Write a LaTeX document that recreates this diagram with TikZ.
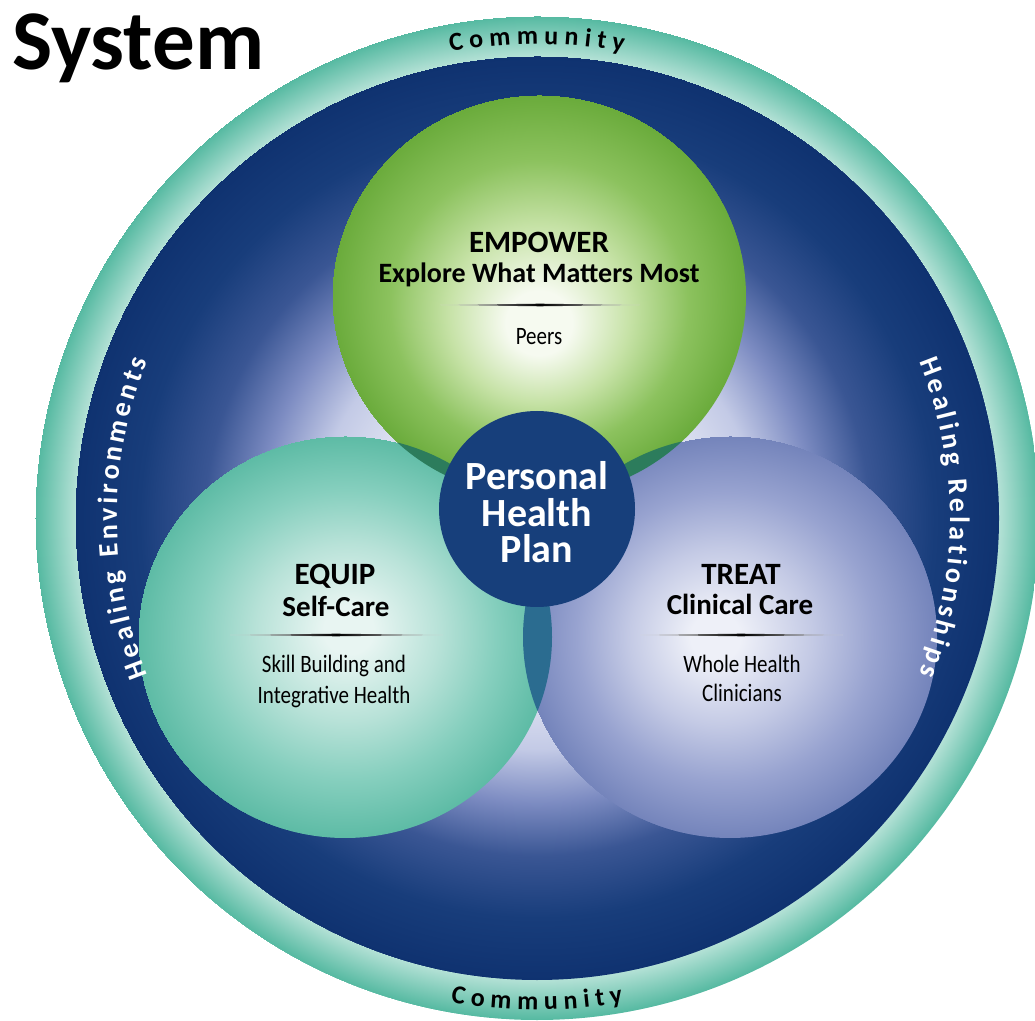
\documentclass[tikz,border=0pt]{standalone}
\usepackage{fontspec}
\setmainfont{Carlito}
\newfontfamily\condfont[FakeStretch=0.84]{Carlito}

% palette
\definecolor{ringdark}{HTML}{55B9A1}
\definecolor{ringlight}{HTML}{BFE6DC}
\definecolor{glowA}{HTML}{E6E9F5}
\definecolor{glowB}{HTML}{C3CAE6}
\definecolor{glowC}{HTML}{7D8CC2}
\definecolor{glowD}{HTML}{3A5694}
\definecolor{glowE}{HTML}{183D7B}
\definecolor{navy}{HTML}{0F3270}
\definecolor{grA}{HTML}{F6FAF0}
\definecolor{grB}{HTML}{C6E2A6}
\definecolor{grC}{HTML}{8CC25E}
\definecolor{grD}{HTML}{6AAB3B}
\definecolor{tlA}{HTML}{E8F5F2}
\definecolor{tlB}{HTML}{B8E2D8}
\definecolor{tlC}{HTML}{86CFBE}
\definecolor{tlD}{HTML}{5DBBA5}
\definecolor{lvA}{HTML}{EEF0F8}
\definecolor{lvB}{HTML}{C4CAE5}
\definecolor{lvC}{HTML}{98A3D0}
\definecolor{lvD}{HTML}{7484BB}
\definecolor{ovgreen}{HTML}{2C7C5C}
\definecolor{ovblue}{HTML}{2B6C90}
\definecolor{hubblue}{HTML}{173F7B}

% radial shadings, rim at 50bp; placed at an explicit scale below
\pgfdeclareradialshading{ringshade}{\pgfpoint{0bp}{0bp}}{%
  color(0bp)=(ringlight); color(45.5bp)=(ringlight); color(50bp)=(ringdark)}
\pgfdeclareradialshading{glowshade}{\pgfpoint{0bp}{-2bp}}{%
  color(0bp)=(glowA); color(16bp)=(glowA); color(24bp)=(glowB); color(30bp)=(glowC);
  color(36bp)=(glowD); color(43bp)=(glowE); color(50bp)=(navy)}
\pgfdeclareradialshading{greenshade}{\pgfpoint{0bp}{-8bp}}{%
  color(0bp)=(grA); color(8bp)=(grA); color(22bp)=(grB); color(36bp)=(grC); color(50bp)=(grD)}
\pgfdeclareradialshading{tealshade}{\pgfpoint{1bp}{2bp}}{%
  color(0bp)=(tlA); color(6bp)=(tlA); color(22bp)=(tlB); color(36bp)=(tlC); color(50bp)=(tlD)}
\pgfdeclareradialshading{lavshade}{\pgfpoint{-4bp}{0bp}}{%
  color(0bp)=(lvA); color(6bp)=(lvA); color(22bp)=(lvB); color(36bp)=(lvC); color(50bp)=(lvD)}

\tikzset{
  blob/.style={x radius=207, y radius=201},
  blobfill/.style={inner sep=0, outer sep=0, xscale=4.1245, yscale=4.0050},
  headtext/.style={anchor=base, font=\bfseries\fontsize{31}{31}\selectfont, text=black, inner sep=0},
  subtext/.style={anchor=base, font=\bfseries\fontsize{29}{29}\selectfont, text=black, inner sep=0},
  roletext/.style={anchor=base, font=\condfont\fontsize{25}{25}\selectfont, text=black, inner sep=0},
  hubtext/.style={anchor=base, font=\bfseries\fontsize{40}{40}\selectfont, text=white, inner sep=0},
  divider/.style={left color=black!15, right color=black!15, middle color=black},
  ringletter/.style={anchor=base, inner sep=0, font=\bfseries\fontsize{26}{26}\selectfont, text=black},
  sideletter/.style={anchor=base, inner sep=0, font=\bfseries\fontsize{28}{28}\selectfont, text=white},
}

% letters set one by one along an arc about (O)
% #1 name prefix, #2 radius, #3 centre angle, #4 direction (-1 clockwise, +1 counter-clockwise),
% #5 tracking, #6 letter style, #7 font size, #8 list of letter/advance in em
\newcommand{\arcletters}[8]{%
  \gdef\arctotal{0}%
  \foreach \ltr/\adv in {#8}{\pgfmathsetmacro\arctmp{\arctotal+\adv*#7+#5}\xdef\arctotal{\arctmp}}%
  \pgfmathsetmacro\arctmp{-(\arctotal-#5)/2}\xdef\arcpos{\arctmp}%
  \foreach \ltr/\adv [count=\k] in {#8}{%
    \pgfmathsetmacro\arcmid{\arcpos+\adv*#7/2}%
    \pgfmathsetmacro\arcang{#3+#4*\arcmid/#2*57.29578}%
    \pgfmathsetmacro\arcrot{\arcang+#4*90}%
    \node[#6, rotate=\arcrot] (#1\k) at ([shift={(\arcang:#2)}]O) {\ltr};
    \pgfmathsetmacro\arctmp{\arcpos+\adv*#7+#5}\xdef\arcpos{\arctmp}%
  }%
}

\begin{document}
\begin{tikzpicture}[x=1pt, y=1pt]
\useasboundingbox (0,0) rectangle (1035,1020);
\coordinate (O) at (537,502);
\coordinate (G) at (539,724);
\coordinate (L) at (345,383);
\coordinate (R) at (730,383);

% outer community ring and navy field
\begin{scope}
  \clip (O) circle (502);
  \node[inner sep=0, outer sep=0, scale=10.0025] (ringfill) at (O) {\pgfuseshading{ringshade}};
\end{scope}
\begin{scope}
  \clip (O) circle (462);
  \node[inner sep=0, outer sep=0, scale=9.2055] (glowfill) at (O) {\pgfuseshading{glowshade}};
\end{scope}

% the three domains
\begin{scope}
  \clip (G) ellipse [blob];
  \node[blobfill] (greenfill) at (G) {\pgfuseshading{greenshade}};
\end{scope}
\begin{scope}
  \clip (L) ellipse [blob];
  \node[blobfill] (tealfill) at (L) {\pgfuseshading{tealshade}};
\end{scope}
\begin{scope}
  \clip (R) ellipse [blob];
  \node[blobfill] (lavfill) at (R) {\pgfuseshading{lavshade}};
\end{scope}

% overlaps
\begin{scope}
  \clip (G) ellipse [blob];
  \fill[ovgreen] (L) ellipse [blob];
  \fill[ovgreen] (R) ellipse [blob];
\end{scope}
\begin{scope}
  \clip (L) ellipse [blob];
  \fill[ovblue] (R) ellipse [blob];
\end{scope}

% hub
\node[circle, fill=hubblue, minimum size=196, inner sep=0] (hub) at (537,511) {};
\node[hubtext] (hubA) at (537,530) {Personal};
\node[hubtext] (hubB) at (537,493) {Health};
\node[hubtext] (hubC) at (537,457) {Plan};

% EMPOWER
\node[headtext] (empA) at (539,767) {EMPOWER};
\node[subtext, font=\bfseries\fontsize{28}{28}\selectfont] (empB) at (539,737) {Explore What Matters Most};
\shade[divider] (440,715) -- (540,716.3) -- (640,715) -- (540,713.7) -- cycle;
\node[roletext] (empC) at (539,675) {Peers};

% EQUIP
\node[headtext] (eqA) at (335,435) {EQUIP};
\node[subtext] (eqB) at (336,403) {Self-Care};
\shade[divider] (230,385) -- (336,386.3) -- (443,385) -- (336,383.7) -- cycle;
\node[roletext] (eqC) at (334,347) {Skill Building and};
\node[roletext] (eqD) at (334,316) {Integrative Health};

% TREAT
\node[headtext] (trA) at (741,435) {TREAT};
\node[subtext] (trB) at (740,405) {Clinical Care};
\shade[divider] (640,385) -- (741,386.3) -- (843,385) -- (741,383.7) -- cycle;
\node[roletext] (trC) at (742,347) {Whole Health};
\node[roletext] (trD) at (742,318) {Clinicians};

% ring labels
\arcletters{ctop}{474}{90}{-1}{6}{ringletter}{26}%
  {C/.529,o/.537,m/.813,m/.813,u/.537,n/.537,i/.246,t/.347,y/.474}
\arcletters{cbot}{492}{270}{1}{6}{ringletter}{26}%
  {C/.529,o/.537,m/.813,m/.813,u/.537,n/.537,i/.246,t/.347,y/.474}
\arcletters{henv}{420}{180}{-1}{3.5}{sideletter}{28}%
  {H/.631,e/.503,a/.494,l/.246,i/.246,n/.537,g/.474,~/.226,%
   E/.488,n/.537,v/.473,i/.246,r/.355,o/.537,n/.537,m/.813,e/.503,n/.537,t/.347,s/.399}
\arcletters{hrel}{413}{0}{-1}{3.5}{sideletter}{28}%
  {H/.631,e/.503,a/.494,l/.246,i/.246,n/.537,g/.474,~/.226,%
   R/.563,e/.503,l/.246,a/.494,t/.347,i/.246,o/.537,n/.537,s/.399,h/.537,i/.246,p/.537,s/.399}

% title
\node[anchor=base west, inner sep=0, font=\bfseries\fontsize{85}{85}\selectfont] (title) at (12,950) {System};
\end{tikzpicture}
\end{document}
